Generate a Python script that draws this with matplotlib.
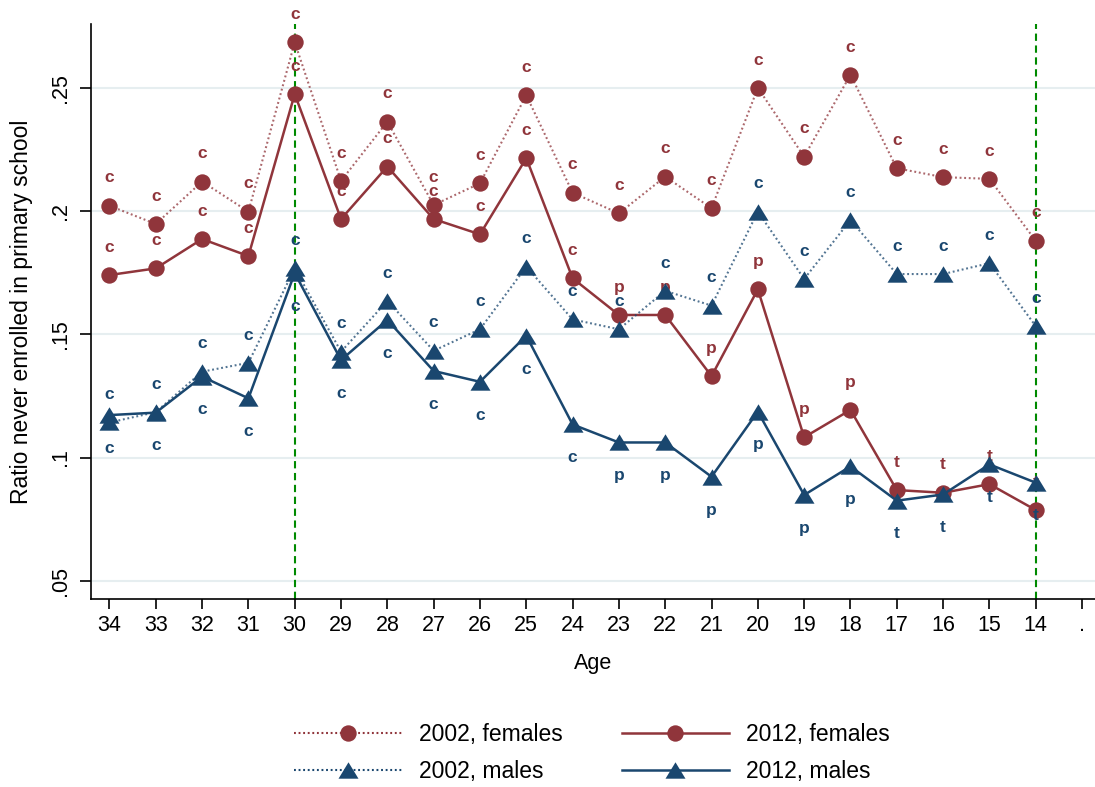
import matplotlib
matplotlib.use("Agg")
import matplotlib.pyplot as plt
from matplotlib.lines import Line2D

plt.rcParams['font.family'] = ['Liberation Sans', 'DejaVu Sans']

# Age categories on the x axis (plus the missing-value slot ".")
ages = [34, 33, 32, 31, 30, 29, 28, 27, 26, 25, 24, 23, 22, 21, 20, 19, 18, 17, 16, 15, 14]
tick_labels = ['34', '33', '32', '31', '30', '29', '28', '27', '26', '25', '24',
               '23', '22', '21', '20', '19', '18', '17', '16', '15', '14', '.']

# Ratio never enrolled in primary school, by census year and sex
fem_2002 = [0.2021, 0.1947, 0.2119, 0.1997, 0.2684, 0.2122, 0.2362, 0.2024, 0.2112, 0.2469, 0.2074,
            0.1990, 0.2139, 0.2011, 0.2499, 0.2220, 0.2552, 0.2173, 0.2137, 0.2130, 0.1879]
fem_2012 = [0.1740, 0.1767, 0.1886, 0.1817, 0.2474, 0.1967, 0.2180, 0.1967, 0.1905, 0.2214, 0.1727,
            0.1578, 0.1578, 0.1330, 0.1682, 0.1082, 0.1193, 0.0868, 0.0857, 0.0892, 0.0787]
mal_2002 = [0.1142, 0.1184, 0.1348, 0.1384, 0.1767, 0.1429, 0.1635, 0.1433, 0.1520, 0.1774, 0.1560,
            0.1520, 0.1676, 0.1616, 0.1997, 0.1724, 0.1963, 0.1744, 0.1744, 0.1788, 0.1533]
mal_2012 = [0.1172, 0.1182, 0.1328, 0.1240, 0.1748, 0.1395, 0.1558, 0.1351, 0.1307, 0.1494, 0.1134,
            0.1061, 0.1061, 0.0922, 0.1186, 0.0848, 0.0964, 0.0825, 0.0850, 0.0972, 0.0898]

# School-system marker labels for each point
lab_fem_2002 = ['c', 'c', 'c', 'c', 'c', 'c', 'c', 'c', 'c', 'c', 'c',
                'c', 'c', 'c', 'c', 'c', 'c', 'c', 'c', 'c', 'c']
lab_fem_2012 = ['c', 'c', 'c', 'c', 'c', 'c', 'c', 'c', 'c', 'c', 'c',
                'p', 'p', 'p', 'p', 'p', 'p', 't', 't', 't', 't']
lab_mal_2002 = ['c', 'c', 'c', 'c', 'c', 'c', 'c', 'c', 'c', 'c', 'c',
                'c', 'c', 'c', 'c', 'c', 'c', 'c', 'c', 'c', 'c']
lab_mal_2012 = ['c', 'c', 'c', 'c', 'c', 'c', 'c', 'c', 'c', 'c', 'c',
                'p', 'p', 'p', 'p', 'p', 'p', 't', 't', 't', 't']

# Reference ages marked with vertical lines
ref_ages = [30, 14]

RED = '#90353B'
NAVY = '#1A476F'
GREEN = '#008A00'
GRID = '#E6EEF0'
DOT = (0, (0.9, 1.3))

TRI = [(-1, -0.82), (1, -0.82), (0, 0.82), (-1, -0.82)]

fig = plt.figure(figsize=(10.95, 7.87), dpi=100)
ax = fig.add_axes([0.0828, 0.2385, 0.9172, 0.731])

xpos = list(range(len(ages)))

for y in [0.05, 0.10, 0.15, 0.20, 0.25]:
    ax.axhline(y, color=GRID, lw=1.5, zorder=0)

for a in ref_ages:
    ax.axvline(ages.index(a), color=GREEN, lw=1.5, ls=(0, (3.5, 2.2)), zorder=1)

series = [
    (fem_2002, lab_fem_2002, RED, DOT, 'o', 11.8, 1.5, 0.75, 20.0),
    (fem_2012, lab_fem_2012, RED, '-', 'o', 11.8, 1.8, 1.0, 20.0),
    (mal_2002, lab_mal_2002, NAVY, DOT, TRI, 14.4, 1.5, 0.75, 20.0),
    (mal_2012, lab_mal_2012, NAVY, '-', TRI, 14.4, 1.8, 1.0, -24.0),
]

z = 2
for vals, labs, col, ls, mk, ms, lw, la, dy in series:
    ax.plot(xpos, vals, color=col, ls=ls, lw=lw, alpha=la, zorder=z, clip_on=False)
    ax.plot(xpos, vals, ls='none', marker=mk, ms=ms, color=col,
            markeredgewidth=0, zorder=z + 0.2, clip_on=False)
    for xi, v, t in zip(xpos, vals, labs):
        ax.annotate(t, (xi, v), xytext=(0, dy), textcoords='offset points',
                    ha='center', va='center', fontsize=12.5, fontweight='bold',
                    color=col, zorder=z + 0.5, annotation_clip=False)
    z += 1

ax.set_xlim(-0.406, 21.28)
ax.set_ylim(0.0425, 0.2758)
ax.set_xticks(range(len(tick_labels)))
ax.set_xticklabels(tick_labels)
ax.set_yticks([0.05, 0.10, 0.15, 0.20, 0.25])
ax.set_yticklabels(['.05', '.1', '.15', '.2', '.25'], rotation=90, va='center')

for side in ['top', 'right']:
    ax.spines[side].set_visible(False)
for side in ['left', 'bottom']:
    ax.spines[side].set_linewidth(1.2)
    ax.spines[side].set_color('black')

ax.tick_params(axis='x', length=7.5, width=1.2, pad=4, labelsize=15.5)
ax.tick_params(axis='y', length=8, width=1.2, pad=6, labelsize=15.5)

fig.text(22 / 1095, 1 - 311.5 / 787, 'Ratio never enrolled in primary school',
         rotation=90, ha='center', va='center', fontsize=16.5)
fig.text(593 / 1095, 1 - 663 / 787, 'Age', ha='center', va='center', fontsize=15.5)

handles = [
    Line2D([], [], color=RED, ls=DOT, lw=1.5, marker='o', ms=11.8, markeredgewidth=0),
    Line2D([], [], color=NAVY, ls=DOT, lw=1.5, marker=TRI, ms=14.4, markeredgewidth=0),
    Line2D([], [], color=RED, ls='-', lw=1.8, marker='o', ms=11.8, markeredgewidth=0),
    Line2D([], [], color=NAVY, ls='-', lw=1.8, marker=TRI, ms=14.4, markeredgewidth=0),
]
labels = ['2002, females', '2002, males', '2012, females', '2012, males']
fig.legend(handles, labels, ncol=2, loc='center',
           bbox_to_anchor=(592 / 1095, 1 - 753 / 787), frameon=False,
           fontsize=16.5, handlelength=4.7, handletextpad=0.75,
           columnspacing=2.58, labelspacing=0.62, numpoints=1)

fig.savefig('out.png', dpi=100, facecolor='white')
